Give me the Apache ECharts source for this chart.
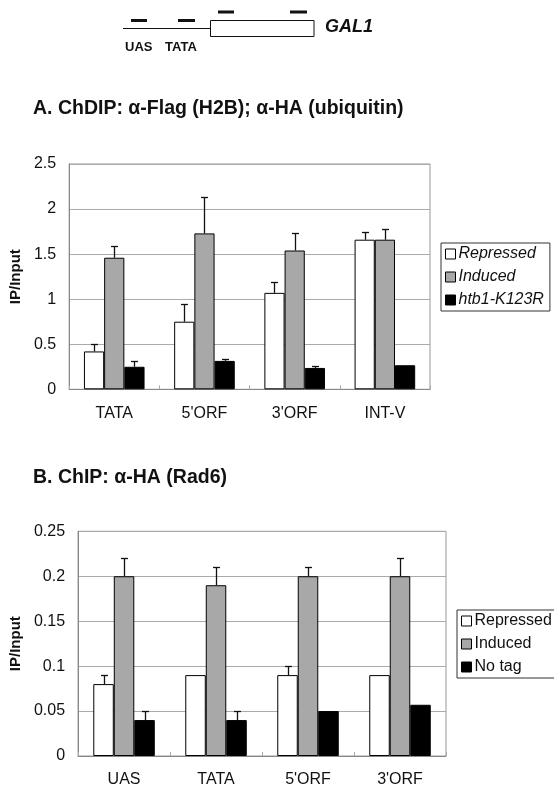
<!DOCTYPE html>
<html>
<head>
<meta charset="utf-8">
<script src="https://cdn.jsdelivr.net/npm/echarts@6/dist/echarts.min.js"></script>
<style>
html,body{margin:0;padding:0;background:#fff;}
#chart{width:554px;height:788px;}
</style>
</head>
<body>
<div id="chart"></div>
<script>
// ---------- Data ----------
const catsA = ['TATA', "5'ORF", "3'ORF", 'INT-V'];
const seriesNamesA = ['Repressed', 'Induced', 'htb1-K123R'];
const repressedA = [0.42, 0.75, 1.07, 1.66];
const repressedErrA = [0.50, 0.95, 1.19, 1.75];
const inducedA = [1.46, 1.73, 1.54, 1.66];
const inducedErrA = [1.585, 2.13, 1.735, 1.78];
const mutantA = [0.25, 0.315, 0.237, 0.267];
const mutantErrA = [0.31, 0.333, 0.255, null];
const yTicksA = [0, 0.5, 1, 1.5, 2, 2.5];

const catsB = ['UAS', 'TATA', "5'ORF", "3'ORF"];
const seriesNamesB = ['Repressed', 'Induced', 'No tag'];
const repressedB = [0.08, 0.09, 0.09, 0.09];
const repressedErrB = [0.09, null, 0.10, null];
const inducedB = [0.20, 0.19, 0.20, 0.20];
const inducedErrB = [0.22, 0.21, 0.21, 0.22];
const notagB = [0.04, 0.04, 0.05, 0.057];
const notagErrB = [0.05, 0.05, null, null];
const yTicksB = [0, 0.05, 0.1, 0.15, 0.2, 0.25];

// ---------- Styles ----------
const FONT = '"Liberation Sans", Arial, sans-serif';
const fills = ['#ffffff', '#a8a8a8', '#000000'];
const BW_A = 20.2, BW_B = 20.5;

function barSeries(name, data, idx, gi, bw) {
  return {
    name: name, type: 'bar', xAxisIndex: gi, yAxisIndex: gi,
    data: data, barWidth: bw, barGap: '0%',
    itemStyle: { color: fills[idx], borderColor: '#000', borderWidth: 1 },
    emphasis: { disabled: true }, z: 2
  };
}
function errSeries(vals, errs, idx, gi, bw) {
  const d = [];
  vals.forEach((v, i) => { if (errs[i] != null) d.push([i, v, errs[i]]); });
  return {
    type: 'custom', xAxisIndex: gi, yAxisIndex: gi, z: 3, silent: true,
    data: d,
    renderItem: function (params, api) {
      const b = api.coord([api.value(0), api.value(1)]);
      const t = api.coord([api.value(0), api.value(2)]);
      const cx = Math.round(b[0] + (idx - 1) * bw) + 0.5;
      const ty = Math.round(t[1]) + 0.5;
      return { type: 'group', children: [
        { type: 'line', shape: { x1: cx, y1: b[1], x2: cx, y2: ty }, style: { stroke: '#111', lineWidth: 1.3 } },
        { type: 'line', shape: { x1: cx - 3.5, y1: ty, x2: cx + 3.5, y2: ty }, style: { stroke: '#111', lineWidth: 1.3 } }
      ]};
    }
  };
}
function xAxis(cats, gi) {
  return {
    type: 'category', gridIndex: gi, data: cats,
    axisLine: { lineStyle: { color: '#888', width: 1 } },
    axisTick: { show: true, inside: true, length: 4, lineStyle: { color: '#aaa' } },
    axisLabel: { color: '#111', fontSize: 16, fontFamily: FONT, margin: 16 }
  };
}
function yAxis(ticks, gi, gap, dec) {
  return {
    type: 'value', gridIndex: gi, min: ticks[0], max: ticks[ticks.length - 1],
    interval: ticks[1] - ticks[0],
    name: 'IP/Input', nameLocation: 'middle', nameGap: gap,
    nameTextStyle: { fontSize: 15, fontWeight: 'bold', fontFamily: FONT, color: '#111' },
    axisLine: { show: true, lineStyle: { color: '#888' } },
    axisTick: { show: false },
    axisLabel: { color: '#111', fontSize: 16, fontFamily: FONT, margin: 13,
      formatter: v => String(parseFloat(v.toFixed(dec))) },
    splitLine: { lineStyle: { color: '#aaa', width: 1 } }
  };
}
function legend(names, left, top, italic) {
  return {
    data: names.map(n => ({ name: n, icon: 'rect' })),
    orient: 'vertical', left: left, top: top, width: 112,
    itemWidth: 10, itemHeight: 10, itemGap: 7,
    padding: [3, 6, 3, 4],
    borderColor: '#333', borderWidth: 1,
    selectedMode: false,
    textStyle: { fontSize: 16, fontFamily: FONT, color: '#111', fontStyle: italic ? 'italic' : 'normal', lineHeight: 16, padding: [0, 0, 0, -2] },
    itemStyle: { borderColor: '#000', borderWidth: 1 }
  };
}

const chart = echarts.init(document.getElementById('chart'));
chart.setOption({
  backgroundColor: '#ffffff',
  animation: false,
  title: [
    { text: 'A. ChDIP: α-Flag (H2B); α-HA (ubiquitin)', left: 33, top: 99, padding: 0,
      textStyle: { fontSize: 19.5, fontWeight: 'bold', fontFamily: FONT, color: '#111' } },
    { text: 'B. ChIP: α-HA (Rad6)', left: 33, top: 468, padding: 0,
      textStyle: { fontSize: 19.5, fontWeight: 'bold', fontFamily: FONT, color: '#111' } }
  ],
  grid: [
    { left: 68, top: 164, width: 362, height: 225.3, show: true, borderColor: '#999', borderWidth: 1, backgroundColor: 'transparent' },
    { left: 78, top: 531.3, width: 368, height: 225, show: true, borderColor: '#999', borderWidth: 1, backgroundColor: 'transparent' }
  ],
  legend: [
    legend(seriesNamesA, 441, 243, true),
    legend(seriesNamesB, 457, 610, false)
  ],
  xAxis: [xAxis(catsA, 0), xAxis(catsB, 1)],
  yAxis: [yAxis(yTicksA, 0, 45, 1), yAxis(yTicksB, 1, 51, 2)],
  series: [
    barSeries(seriesNamesA[0], repressedA, 0, 0, BW_A),
    barSeries(seriesNamesA[1], inducedA, 1, 0, BW_A),
    barSeries(seriesNamesA[2], mutantA, 2, 0, BW_A),
    errSeries(repressedA, repressedErrA, 0, 0, BW_A),
    errSeries(inducedA, inducedErrA, 1, 0, BW_A),
    errSeries(mutantA, mutantErrA, 2, 0, BW_A),
    barSeries(seriesNamesB[0], repressedB, 0, 1, BW_B),
    barSeries(seriesNamesB[1], inducedB, 1, 1, BW_B),
    barSeries(seriesNamesB[2], notagB, 2, 1, BW_B),
    errSeries(repressedB, repressedErrB, 0, 1, BW_B),
    errSeries(inducedB, inducedErrB, 1, 1, BW_B),
    errSeries(notagB, notagErrB, 2, 1, BW_B)
  ],
  graphic: [
    { type: 'line', shape: { x1: 123, y1: 28.5, x2: 210, y2: 28.5 }, style: { stroke: '#111', lineWidth: 1 } },
    { type: 'rect', shape: { x: 210.5, y: 20.5, width: 103.5, height: 16 }, style: { fill: '#fff', stroke: '#111', lineWidth: 1 } },
    { type: 'line', shape: { x1: 131, y1: 20.5, x2: 147, y2: 20.5 }, style: { stroke: '#111', lineWidth: 3 } },
    { type: 'line', shape: { x1: 178, y1: 20.5, x2: 195, y2: 20.5 }, style: { stroke: '#111', lineWidth: 3 } },
    { type: 'line', shape: { x1: 218, y1: 12, x2: 234, y2: 12 }, style: { stroke: '#111', lineWidth: 3 } },
    { type: 'line', shape: { x1: 290, y1: 12, x2: 307, y2: 12 }, style: { stroke: '#111', lineWidth: 3 } },
    { type: 'text', left: 325, top: 18, style: { text: 'GAL1', font: 'italic bold 18px ' + FONT, fill: '#111' } },
    { type: 'text', left: 125, top: 41, style: { text: 'UAS', font: 'bold 13px ' + FONT, fill: '#111' } },
    { type: 'text', left: 165, top: 41, style: { text: 'TATA', font: 'bold 13px ' + FONT, fill: '#111' } }
  ]
});
</script>
</body>
</html>
